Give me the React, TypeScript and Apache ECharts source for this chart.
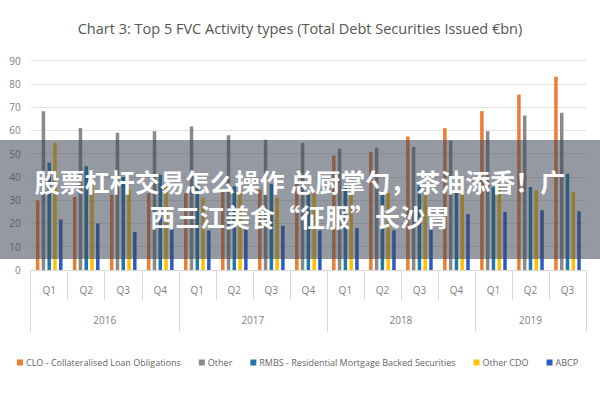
import React, { useEffect, useRef } from "react";
import * as echarts from "echarts";

const quarters = ["Q1","Q2","Q3","Q4","Q1","Q2","Q3","Q4","Q1","Q2","Q3","Q4","Q1","Q2","Q3"];
const years = ["2016", "2017", "2018", "2019"];
const yearCenters = [2, 6, 10, 13.5];
const yearBounds = [0, 4, 8, 12, 15];

const clo = [30, 31.4, 32.4, 33, 33, 33.5, 34.5, 41, 49.3, 50.7, 57.4, 61, 68.3, 75.4, 83.1];
const other = [68.3, 61.1, 59, 59.7, 61.7, 57.9, 56, 54.6, 52.1, 52.6, 52.9, 55.7, 59.7, 66.4, 67.6];
const rmbs = [46.2, 44.6, 40, 41, 38, 36, 37, 34, 36, 33.6, 38.3, 33.6, 35.7, 35.7, 41.4];
const otherCdo = [54.7, 38, 34.3, 36, 31, 34, 31, 33, 33, 33, 33.1, 35, 36, 34.3, 33.6];
const abcp = [21.7, 20, 16.4, 18, 17, 18, 19, 17, 18, 17, 18.6, 24, 25, 25.7, 25.3];

const seriesNames = [
  "CLO - Collateralised Loan Obligations",
  "Other",
  "RMBS - Residential Mortgage Backed Securities",
  "Other CDO",
  "ABCP",
];
const colors = ["#ED7D31", "#8A8A8A", "#1F78A8", "#FFC000", "#2D5BC4"];

const titleText = "Chart 3: Top 5 FVC Activity types (Total Debt Securities Issued €bn)";
const bannerLines = ["股票杠杆交易怎么操作 总厨掌勺，茶油添香！广", "西三江美食“征服”长沙胃"];

export default function App() {
  const ref = useRef<HTMLDivElement>(null);
  useEffect(() => {
    document.body.style.margin = "0";
    const chart = echarts.init(ref.current!, null, { renderer: "svg" });
    const font = "'Open Sans', sans-serif";
    const dataSets = [clo, other, rmbs, otherCdo, abcp];
    chart.setOption({
      animation: false,
      textStyle: { fontFamily: font },
      title: {
        text: titleText,
        left: "center",
        top: 16,
        textStyle: { fontSize: 14.5, fontWeight: "normal", color: "#555555", fontFamily: font },
      },
      legend: {
        top: 353,
        left: 12,
        itemWidth: 6,
        itemHeight: 6,
        itemGap: 18,
        icon: "rect",
        textStyle: { fontSize: 9, color: "#666666", fontFamily: font, padding: [0, 0, 0, -2] },
        data: seriesNames,
      },
      grid: { left: 30.7, right: 14, top: 60.7, bottom: 130, containLabel: false },
      xAxis: [
        {
          type: "category",
          data: quarters,
          position: "bottom",
          axisLine: { show: true, lineStyle: { color: "#d9d9d9" } },
          axisTick: { show: true, length: 30, lineStyle: { color: "#d9d9d9" } },
          axisLabel: { color: "#7f7f7f", fontSize: 10, margin: 15 },
        },
        {
          type: "value",
          min: 0,
          max: 15,
          position: "bottom",
          axisLine: { show: false },
          splitLine: { show: false },
          axisTick: { show: true, length: 62, customValues: yearBounds, lineStyle: { color: "#d9d9d9" } },
          axisLabel: {
            customValues: yearCenters,
            color: "#7f7f7f",
            fontSize: 10,
            margin: 45,
            formatter: (v: number) => {
              const i = yearCenters.indexOf(v);
              return i >= 0 ? years[i] : "";
            },
          },
        },
      ],
      yAxis: {
        type: "value",
        min: 0,
        max: 90,
        interval: 10,
        axisLine: { show: false },
        axisTick: { show: false },
        axisLabel: { color: "#7f7f7f", fontSize: 10, margin: 10 },
        splitLine: { lineStyle: { color: "#e3e3e3" } },
      },
      series: seriesNames.map((name, i) => ({
        name,
        type: "bar",
        xAxisIndex: 0,
        data: dataSets[i],
        barWidth: 3.5,
        barGap: "65%",
        itemStyle: { color: colors[i] },
      })),
      graphic: [
        {
          type: "rect",
          left: 0,
          top: 140,
          shape: { width: 600, height: 119 },
          style: { fill: "rgba(60,70,85,0.55)" },
          z: 100,
        },
        {
          type: "text",
          left: "center",
          top: 168,
          style: {
            text: bannerLines[0],
            fill: "#ffffff",
            font: "bold 25px 'Noto Sans CJK SC'",
          },
          z: 101,
        },
        {
          type: "text",
          left: "center",
          top: 203,
          style: {
            text: bannerLines[1],
            fill: "#ffffff",
            font: "bold 25px 'Noto Sans CJK SC'",
          },
          z: 101,
        },
      ],
    });
    return () => chart.dispose();
  }, []);
  return <div ref={ref} style={{ width: 600, height: 400 }} />;
}
